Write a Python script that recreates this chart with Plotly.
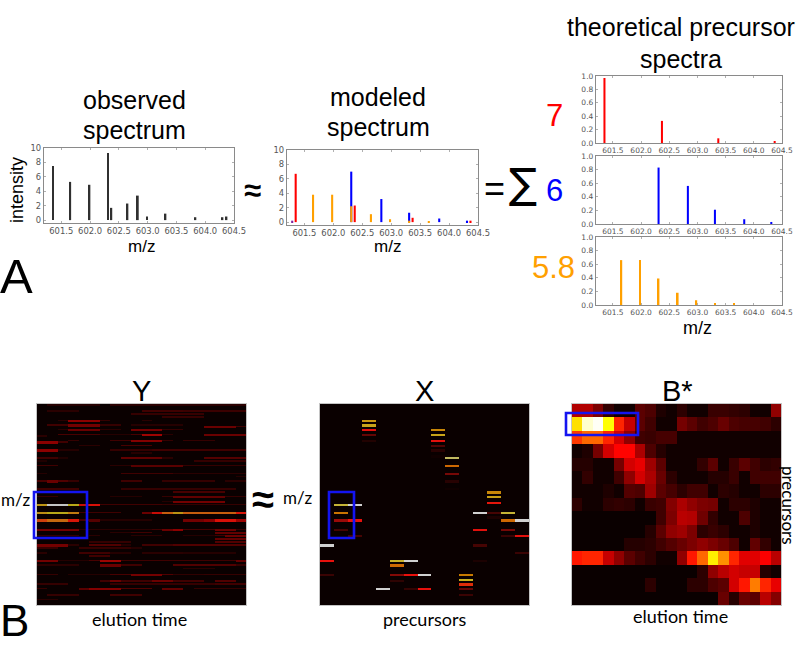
import numpy as np
import plotly.graph_objects as go

W, H = 800, 646

# ---------- spectra data ----------
OBS_MZ = [601.356, 601.656, 601.99, 602.31, 602.37, 602.65, 602.83, 602.99, 603.31, 603.83, 604.30, 604.37]
OBS_INT = [7.5, 5.3, 4.9, 9.3, 1.7, 2.3, 3.4, 0.5, 0.9, 0.4, 0.4, 0.5]

RED_MZ = [601.35, 602.37, 603.37, 604.37]
RED_THEO = [0.97, 0.33, 0.07, 0.02]
RED_MODEL = [6.7, 2.3, 0.6, 0.2]

BLUE_MZ = [602.31, 602.83, 603.31, 603.83, 604.31]
BLUE_THEO = [0.83, 0.56, 0.21, 0.07, 0.03]
BLUE_MODEL = [7.0, 3.2, 1.3, 0.5, 0.2]

ORANGE_MZ = [601.65, 601.98, 602.31, 602.65, 602.98, 603.31, 603.65]
ORANGE_THEO = [0.66, 0.66, 0.39, 0.18, 0.07, 0.03, 0.02]
ORANGE_MODEL = [3.8, 3.8, 2.2, 1.1, 0.4, 0.2, 0.1]

PURPLE_MZ = [601.29]
PURPLE_MODEL = [0.2]

XTICKS = [601.5, 602.0, 602.5, 603.0, 603.5, 604.0, 604.5]
XTICK_TEXT = ["601.5", "602.0", "602.5", "603.0", "603.5", "604.0", "604.5"]

# ---------- heatmap data ----------
N_ROWS = 129
N_TIME = 20
N_PREC = 15

# (row, first column, end column, value)
Y_SEGMENTS = [
    (0, 1, 6, .05), (0, 7, 20, .06),
    (4, 1, 4, .06), (4, 10, 14, .1), (4, 14, 20, .09),
    (6, 9, 16, .08), (8, 12, 16, .08),
    (10, 2, 3, .06), (10, 3, 6, .28), (10, 6, 7, .08), (10, 10, 11, .06),
    (13, 1, 3, .1), (13, 3, 6, .22), (13, 6, 8, .08), (13, 9, 14, .05),
    (14, 16, 19, .2), (14, 19, 20, .1),
    (16, 2, 3, .06), (16, 3, 6, .2), (16, 6, 8, .06), (16, 9, 12, .22), (16, 12, 14, .08),
    (19, 2, 6, .12), (19, 6, 9, .05), (19, 9, 10, .12), (19, 10, 12, .3), (19, 12, 13, .06), (19, 16, 20, .2),
    (20, 0, 1, .06),
    (23, 3, 4, .08), (23, 7, 9, .1), (23, 9, 12, .26), (23, 12, 13, .08), (23, 14, 17, .08),
    (24, 0, 2, .28), (24, 2, 3, .1),
    (26, 4, 6, .06), (26, 8, 11, .12),
    (29, 0, 2, .28), (29, 2, 4, .05), (29, 7, 11, .08), (29, 11, 20, .1),
    (31, 9, 11, .05),
    (34, 0, 2, .1), (34, 2, 3, .04), (34, 8, 12, .18), (34, 12, 13, .06), (34, 16, 20, .15),
    (36, 0, 1, .04), (36, 15, 20, .08),
    (39, 0, 2, .1), (39, 7, 9, .06), (39, 9, 14, .16), (39, 14, 20, .08),
    (44, 0, 1, .05), (44, 8, 13, .1), (44, 13, 16, .06), (44, 16, 20, .06),
    (46, 19, 20, .05),
    (49, 0, 1, .12), (49, 1, 2, .2), (49, 2, 3, .14), (49, 3, 4, .08), (49, 8, 10, .1), (49, 12, 17, .08), (49, 18, 20, .06),
    (54, 0, 4, .1), (54, 8, 12, .08), (54, 12, 19, .08),
    (56, 13, 18, .12),
    (59, 0, 2, .08), (59, 7, 10, .05), (59, 12, 13, .08), (59, 13, 18, .18), (59, 18, 20, .08),
    (62, 12, 13, .05), (62, 13, 18, .22),
    (64, 0, 1, .62), (64, 1, 3, 1.0), (64, 3, 4, .68), (64, 4, 5, .35), (64, 5, 6, .37), (64, 6, 12, .1), (64, 12, 20, .08),
    (69, 0, 1, .6), (69, 1, 3, .68), (69, 3, 4, .55), (69, 4, 8, .1), (69, 10, 11, .2), (69, 11, 12, .35),
    (69, 12, 13, .5), (69, 13, 14, .62), (69, 14, 19, .5), (69, 19, 20, .38),
    (74, 0, 1, .45), (74, 1, 3, .52), (74, 3, 4, .38), (74, 4, 5, .12), (74, 5, 6, .15), (74, 6, 11, .05),
    (74, 14, 16, .22), (74, 16, 17, .28), (74, 17, 19, .37), (74, 19, 20, .3),
    (80, 0, 4, .22), (80, 4, 11, .06), (80, 11, 12, .1), (80, 12, 13, .2), (80, 13, 14, .28), (80, 14, 17, .12), (80, 17, 19, .2), (80, 19, 20, .08),
    (82, 7, 9, .06), (82, 9, 11, .1), (82, 17, 20, .18),
    (84, 0, 4, .08), (84, 5, 6, .06), (84, 9, 12, .06), (84, 14, 17, .05), (84, 17, 18, .1), (84, 18, 20, .2),
    (86, 17, 20, .18),
    (88, 5, 9, .08), (88, 17, 20, .14),
    (90, 0, 3, .22), (90, 3, 4, .06), (90, 5, 8, .14), (90, 8, 9, .05), (90, 10, 13, .1), (90, 13, 16, .14), (90, 16, 20, .14),
    (92, 0, 2, .08), (92, 4, 9, .08), (92, 9, 10, .05),
    (95, 0, 1, .06), (95, 4, 7, .1), (95, 7, 9, .05), (95, 10, 14, .06), (95, 14, 19, .05),
    (97, 5, 7, .1),
    (100, 0, 2, .22), (100, 2, 5, .05), (100, 5, 6, .12), (100, 6, 8, .3), (100, 8, 13, .1), (100, 13, 19, .1), (100, 19, 20, .18),
    (103, 0, 4, .06), (103, 6, 8, .2), (103, 8, 10, .1), (103, 13, 19, .14), (103, 19, 20, .08),
    (105, 14, 17, .06),
    (109, 0, 2, .08), (109, 3, 7, .05), (109, 7, 9, .12), (109, 9, 12, .22), (109, 12, 13, .14), (109, 13, 16, .07), (109, 16, 20, .08),
    (113, 6, 7, .1), (113, 7, 8, .2), (113, 8, 11, .1), (113, 11, 13, .2), (113, 13, 16, .1), (113, 17, 19, .14),
    (115, 0, 3, .08), (115, 7, 17, .08), (115, 17, 20, .1),
    (118, 0, 1, .08), (118, 4, 5, .16), (118, 5, 8, .26), (118, 8, 11, .14), (118, 12, 14, .18), (118, 15, 20, .08),
    (122, 1, 4, .08), (122, 7, 10, .1),
    (125, 0, 2, .06),
]

# (precursor column, row, value)
X_ENTRIES = [
    (3, 10, .62), (3, 13, .65), (3, 16, .36), (3, 19, .15), (3, 23, .04),
    (8, 16, .58), (8, 19, .65), (8, 23, .36), (8, 26, .12), (8, 29, .05), (8, 33, .01),
    (9, 34, .8), (9, 39, .52), (9, 44, .18), (9, 49, .05), (9, 54, .01),
    (12, 56, .58), (12, 59, .64), (12, 63, .38), (12, 69, .1), (12, 72, .03),
    (1, 64, .72), (2, 64, 1.0), (1, 69, .54), (1, 74, .24), (2, 74, .37), (1, 80, .1), (2, 84, .1),
    (0, 90, 1.0), (0, 100, .37), (0, 109, .08),
    (11, 69, 1.0), (11, 80, .36), (11, 90, .1), (11, 100, .03),
    (13, 69, .72), (13, 74, .52), (14, 74, 1.0), (13, 80, .18), (13, 84, .08), (14, 84, .36), (14, 95, .08),
    (5, 100, .7), (6, 100, 1.0), (5, 103, .52), (5, 109, .2), (6, 109, .37), (7, 109, 1.0), (5, 113, .06),
    (4, 118, 1.0), (6, 118, .07), (7, 118, .37),
    (10, 109, .55), (10, 112, .68), (10, 115, .42), (10, 118, .15), (10, 122, .08),
]

B_ROWS = [
    [.25, .25, .17, .06, .01, .01, .12, .10, .03, .01, .05, .01, .01, .07, .07, .06, .05, .01, .01, .20],
    [.70, .95, .99, .75, .42, .28, .12, .08, .01, .01, .16, .12, .08, .10, .14, .10, .09, .09, .08, .05],
    [.45, .52, .52, .42, .30, .20, .08, .07, .09, .09, .01, .01, .01, .01, .01, .01, .01, .01, .01, .01],
    [.01, .03, .16, .30, .37, .37, .24, .10, .04, .01, .01, .01, .01, .01, .01, .01, .01, .01, .01, .01],
    [.04, .04, .01, .01, .16, .30, .33, .22, .12, .01, .01, .01, .06, .12, .01, .07, .12, .08, .05, .06],
    [.01, .06, .01, .01, .08, .20, .30, .24, .14, .05, .01, .01, .01, .04, .04, .07, .01, .08, .08, .08],
    [.01, .01, .01, .03, .01, .11, .10, .22, .12, .09, .05, .08, .08, .01, .05, .04, .01, .01, .05, .05],
    [.05, .01, .01, .05, .06, .05, .01, .07, .08, .18, .24, .20, .17, .16, .01, .05, .05, .03, .01, .01],
    [.00, .00, .00, .00, .00, .00, .00, .00, .08, .17, .26, .25, .15, .06, .01, .01, .10, .03, .01, .01],
    [.00, .00, .00, .00, .00, .00, .00, .04, .12, .20, .22, .17, .05, .07, .05, .01, .01, .03, .01, .01],
    [.00, .00, .00, .00, .00, .04, .04, .05, .08, .11, .14, .17, .20, .17, .14, .10, .01, .13, .06, .01],
    [.40, .42, .42, .28, .20, .12, .08, .05, .01, .01, .20, .40, .52, .72, .58, .42, .32, .32, .36, .26],
    [.00, .00, .00, .00, .00, .00, .00, .00, .00, .00, .00, .00, .05, .20, .26, .30, .28, .28, .04, .01],
    [.00, .00, .00, .00, .00, .00, .00, .05, .00, .00, .00, .05, .05, .10, .12, .30, .40, .55, .42, .33],
    [.00, .00, .00, .00, .00, .00, .00, .00, .00, .00, .00, .00, .00, .00, .14, .04, .14, .12, .26, .18],
]

# colour ramps
HOT = [[0, "#0a0000"], [0.365, "#ff0000"], [0.746, "#ffff00"], [1, "#ffffff"]]
HOT_BLURRED = [[0, "#0a0000"], [0.37, "#e8100c"], [0.55, "#c87a00"], [0.68, "#c8b020"],
               [0.8, "#c0b860"], [1, "#d0d0d0"]]
HOT_DIM = [[0, "#0a0000"], [0.1, "#400000"], [0.28, "#8c0000"], [0.37, "#d81008"], [0.55, "#c07a10"],
           [0.68, "#b8a818"], [0.8, "#b8b060"], [1, "#c4c4c4"]]

RED, BLUE, ORANGE, PURPLE, FRAME, TICK = "#ff0000", "#0000ff", "#ffa000", "#8020a0", "#8a8a8a", "#555555"
BODY = "Liberation Sans"
CAP = "Lato"


def px(x):
    return x / W


def py(y):
    return 1 - y / H


def build_y():
    z = np.zeros((N_ROWS * 2, N_TIME))
    for r, a, b, v in Y_SEGMENTS:
        t = 3 if v >= 0.15 else 2
        z[2 * r:2 * r + t, a:b] = np.maximum(z[2 * r:2 * r + t, a:b], v)
    return z


def build_x():
    z = np.zeros((N_ROWS * 2, N_PREC))
    for c, r, v in X_ENTRIES:
        z[2 * r:2 * r + 3, c] = np.maximum(z[2 * r:2 * r + 3, c], v)
    return z


fig = go.Figure()


def stems(mz, vals, color, width, sub):
    fig.add_trace(go.Bar(x=mz, y=vals, width=width, marker=dict(color=color, line=dict(width=0)),
                         xaxis="x" + sub, yaxis="y" + sub, showlegend=False))


stems(OBS_MZ, OBS_INT, "#303030", 0.03, "")
stems(BLUE_MZ, BLUE_MODEL, BLUE, 0.036, "2")
stems(RED_MZ, RED_MODEL, RED, 0.036, "2")
stems(ORANGE_MZ, ORANGE_MODEL, ORANGE, 0.036, "2")
stems(PURPLE_MZ, PURPLE_MODEL, PURPLE, 0.036, "2")
stems(RED_MZ, RED_THEO, RED, 0.036, "3")
stems(BLUE_MZ, BLUE_THEO, BLUE, 0.036, "4")
stems(ORANGE_MZ, ORANGE_THEO, ORANGE, 0.03, "5")

for sub, z, scale in [("6", build_y(), HOT_DIM), ("7", build_x(), HOT_BLURRED), ("8", np.array(B_ROWS), HOT)]:
    fig.add_trace(go.Heatmap(z=z, zmin=0, zmax=1, colorscale=scale, showscale=False,
                             xaxis="x" + sub, yaxis="y" + sub, hoverinfo="skip"))

layout = dict(width=W, height=H, margin=dict(l=0, r=0, t=0, b=0, autoexpand=False), paper_bgcolor="white",
              plot_bgcolor="white", barmode="overlay", showlegend=False)


def spectrum_axes(sub, x0, x1, y0, y1, yrange, yticks, size):
    ax = dict(showline=True, linecolor=FRAME, linewidth=1.4, mirror="ticks", ticks="inside", ticklen=2, tickwidth=1,
              tickcolor="#b0b0b0", showgrid=False, zeroline=False,
              tickfont=dict(family="DejaVu Sans", size=size, color=TICK))
    layout["xaxis" + sub] = dict(ax, domain=[px(x0), px(x1)], range=[601.2, 604.5], tickvals=XTICKS,
                                 ticktext=XTICK_TEXT, anchor="y" + sub)
    layout["yaxis" + sub] = dict(ax, domain=[py(y1), py(y0)], range=yrange, tickvals=yticks,
                                 ticktext=[("%g" % t if yrange[1] > 2 else "%.1f" % t) for t in yticks],
                                 anchor="x" + sub)


INT_TICKS = [0, 2, 4, 6, 8, 10]
FRAC_TICKS = [0, .2, .4, .6, .8, 1]
spectrum_axes("", 44, 234, 148, 223, [-0.4, 10], INT_TICKS, 8.4)
spectrum_axes("2", 287, 478, 150, 225, [-0.4, 10], INT_TICKS, 8.4)
spectrum_axes("3", 596, 782, 76, 143, [0, 1], FRAC_TICKS, 7.5)
spectrum_axes("4", 596, 782, 156, 224, [0, 1], FRAC_TICKS, 7.5)
spectrum_axes("5", 596, 782, 237, 305, [0, 1], FRAC_TICKS, 7.5)

for sub, x0, x1, n_rows in [("6", 37, 246, N_ROWS * 2), ("7", 320, 529, N_ROWS * 2), ("8", 572, 781, len(B_ROWS))]:
    plain = dict(showline=True, linecolor="#c4c4c4", linewidth=1, mirror=True, ticks="", showticklabels=False,
                 showgrid=False, zeroline=False)
    layout["xaxis" + sub] = dict(plain, domain=[px(x0), px(x1)], anchor="y" + sub)
    layout["yaxis" + sub] = dict(plain, domain=[py(605), py(404)], range=[n_rows - 0.5, -0.5], anchor="x" + sub)

fig.update_layout(**layout)

LABELS = [
    ("observed", 134, 100, 25, "black", BODY, 0),
    ("spectrum", 134, 130, 25, "black", BODY, 0),
    ("modeled", 378, 97, 25, "black", BODY, 0),
    ("spectrum", 378, 127, 25, "black", BODY, 0),
    ("theoretical precursor", 681, 27, 25, "black", BODY, 0),
    ("spectra", 681, 59, 25, "black", BODY, 0),
    ("intensity", 17, 190, 18, "black", BODY, -90),
    ("m/z", 141, 247, 17, "black", BODY, 0),
    ("m/z", 387, 247, 17, "black", BODY, 0),
    ("m/z", 697, 328, 18, "black", BODY, 0),
    ("A", 16, 276, 49, "black", BODY, 0),
    ("B", 14, 620, 44, "black", BODY, 0),
    ("<b>≈</b>", 253, 190, 31, "black", BODY, 0),
    ("=", 494, 188, 36, "black", BODY, 0),
    ("∑", 523, 184, 42, "black", "DejaVu Sans", 0),
    ("7", 554, 116, 31, RED, BODY, 0),
    ("6", 554, 190, 31, BLUE, BODY, 0),
    ("5.8", 553, 267, 31, ORANGE, BODY, 0),
    ("Y", 141, 391, 29, "black", BODY, 0),
    ("X", 424, 391, 29, "black", BODY, 0),
    ("B*", 677, 391, 29, "black", BODY, 0),
    ("m/z", 15, 499, 17, "black", CAP, 0),
    ("m/z", 297, 497, 17, "black", CAP, 0),
    ("<b>≈</b>", 263, 499, 40, "black", BODY, 0),
    ("elution time", 139, 619, 18, "black", CAP, 0),
    ("precursors", 424, 619, 18, "black", CAP, 0),
    ("elution time", 680, 616, 18, "black", CAP, 0),
    ("precursors", 789, 505, 17, "black", CAP, 90),
]
for text, x, y, size, color, family, angle in LABELS:
    fig.add_annotation(text=text, x=px(x), y=py(y), xref="paper", yref="paper", xanchor="center", yanchor="middle",
                       showarrow=False, textangle=angle, font=dict(size=size, color=color, family=family))

BOXES = [(34, 492, 87, 538), (329, 492, 354, 538), (566, 413, 638, 435)]
for x0, y0, x1, y1 in BOXES:
    fig.add_shape(type="rect", xref="paper", yref="paper", x0=px(x0), x1=px(x1), y0=py(y0), y1=py(y1),
                  line=dict(color="#1414f0", width=2.6))

fig.write_html("out.html", config={"displayModeBar": False},
               post_script="document.body.style.margin='0';document.body.style.overflow='hidden';")
